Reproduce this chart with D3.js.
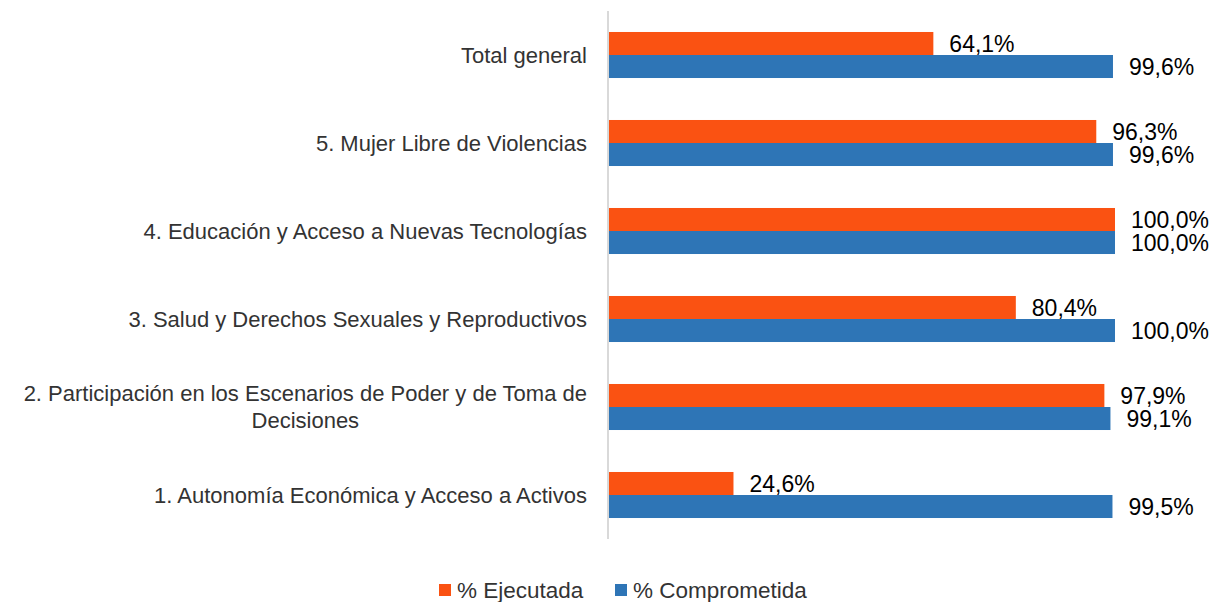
<!DOCTYPE html>
<html>
<head>
<meta charset="utf-8">
<script src="https://cdn.jsdelivr.net/npm/d3@7"></script>
<style>
  body { margin: 0; background: #fff; }
  text { font-family: "Liberation Sans", Arial, sans-serif; }
</style>
</head>
<body>
<div id="plot"></div>
<script>
  // data
  const categories = [
    "Total general",
    "5. Mujer Libre de Violencias",
    "4. Educación y Acceso a Nuevas Tecnologías",
    "3. Salud y Derechos Sexuales y Reproductivos",
    "2. Participación en los Escenarios de Poder y de Toma de Decisiones",
    "1. Autonomía Económica y Acceso a Activos"
  ];
  const ejecutada = [64.1, 96.3, 100.0, 80.4, 97.9, 24.6];
  const comprometida = [99.6, 99.6, 100.0, 100.0, 99.1, 99.5];
  const seriesNames = ["% Ejecutada", "% Comprometida"];
  const colors = ["#FA5212", "#2E75B6"];

  const w = 1213;
  const h = 602;
  const margin = {top: 11, left: 609, right: 98, bottom: 63};
  const innerWidth = w - margin.left - margin.right;
  const innerHeight = h - margin.top - margin.bottom;

  const svg = d3.select("div#plot")
      .append("svg")
      .attr("width", w)
      .attr("height", h);

  const rows = categories.map((c, i) => ({cat: c, values: [ejecutada[i], comprometida[i]]}));

  const yScale = d3.scaleBand()
      .domain(categories)
      .range([0, innerHeight])
      .paddingInner(0.477)
      .paddingOuter(0.2385);

  const ySub = d3.scaleBand()
      .domain([0, 1])
      .range([0, yScale.bandwidth()]);

  const xScale = d3.scaleLinear()
      .domain([0, 100])
      .range([0, 506]);

  const g = svg.append("g")
      .attr("transform", `translate(${margin.left}, ${margin.top})`);

  const groups = g.selectAll("g.cat")
    .data(rows)
    .enter().append("g")
      .attr("class", "cat")
      .attr("transform", d => `translate(0, ${yScale(d.cat)})`);

  groups.selectAll("rect")
    .data(d => d.values)
    .enter().append("rect")
      .attr("x", 0)
      .attr("y", (d, i) => ySub(i))
      .attr("width", d => xScale(d))
      .attr("height", ySub.bandwidth())
      .attr("fill", (d, i) => colors[i]);

  groups.selectAll("text.lbl")
    .data(d => d.values)
    .enter().append("text")
      .attr("class", "lbl")
      .attr("x", d => xScale(d) + 16)
      .attr("y", (d, i) => ySub(i) + ySub.bandwidth() / 2)
      .attr("dy", "0.36em")
      .attr("font-size", 23)
      .attr("fill", "#000")
      .text(d => d.toFixed(1).replace(".", ",") + "%");

  // axis line (no ticks)
  g.append("line")
      .attr("x1", -1).attr("x2", -1)
      .attr("y1", 0).attr("y2", innerHeight)
      .attr("stroke", "#d9d9d9")
      .attr("stroke-width", 2);

  // category labels, wrapped where needed
  const wrapAt = {"2. Participación en los Escenarios de Poder y de Toma de Decisiones":
      ["2. Participación en los Escenarios de Poder y de Toma de", "Decisiones"]};

  g.selectAll("text.cat")
    .data(categories)
    .enter().append("text")
      .attr("class", "cat")
      .attr("font-size", 22)
      .attr("fill", "#333")
      .each(function(d) {
        const lines = wrapAt[d] || [d];
        const cy = yScale(d) + yScale.bandwidth() / 2;
        const el = d3.select(this);
        if (lines.length > 1) {
          // centred block with its right edge at x = -22
          el.attr("text-anchor", "middle").text(lines[0]);
          const wid = this.getComputedTextLength();
          el.text(null);
          lines.forEach((l, k) => {
            el.append("tspan")
              .attr("x", -22 - wid / 2)
              .attr("y", cy + (k - (lines.length - 1) / 2) * 27)
              .attr("dy", "0.36em")
              .text(l);
          });
        } else {
          el.attr("text-anchor", "end")
            .attr("x", -22)
            .attr("y", cy)
            .attr("dy", "0.36em")
            .text(d);
        }
      });

  // legend
  const legendX = [439, 615];
  const legend = svg.selectAll("g.legend")
    .data(seriesNames)
    .enter().append("g")
      .attr("class", "legend")
      .attr("transform", (d, i) => `translate(${legendX[i]}, 590)`);

  legend.append("rect")
      .attr("x", 0).attr("y", -6)
      .attr("width", 12).attr("height", 12)
      .attr("fill", (d, i) => colors[i]);

  legend.append("text")
      .attr("x", 18)
      .attr("dy", "0.36em")
      .attr("font-size", 22.5)
      .attr("fill", "#333")
      .text(d => d);
</script>
</body>
</html>
